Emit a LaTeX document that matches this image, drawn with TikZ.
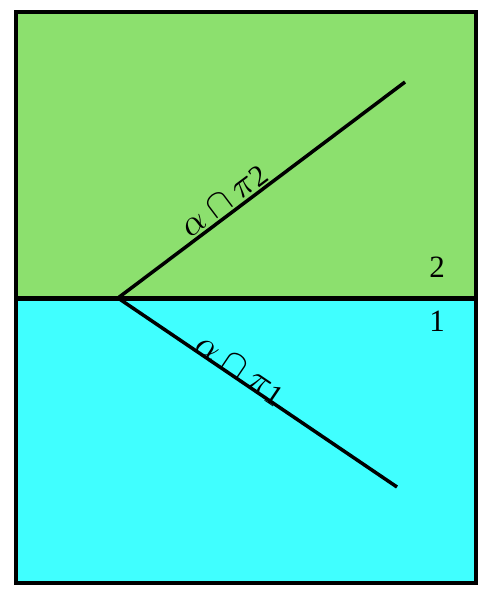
\documentclass[tikz,border=0pt]{standalone}
\usepackage{graphicx}
\usepackage{fontspec}
\setmainfont{Liberation Serif}
\definecolor{upgreen}{RGB}{140,224,110}
\definecolor{lowcyan}{RGB}{64,255,255}
\newcommand{\bigmath}[1]{\scalebox{3.6}{\fontsize{10}{12}\selectfont$#1$}}
\tikzset{
  frameline/.style={line width=3.5pt},
  rayline/.style={line width=3.5pt},
  lbl/.style={font=\fontsize{30}{34}\selectfont, inner sep=0pt},
  numlbl/.style={font=\fontsize{31}{35}\selectfont, inner sep=0pt},
}
\begin{document}
\begin{tikzpicture}[x=1pt,y=-1pt]
\useasboundingbox (0,0) rectangle (481,591);
\fill[upgreen] (16,12) rectangle (476,298);
\fill[lowcyan] (16,298) rectangle (476,583);
\draw[frameline] (16,12) rectangle (476,583);
\coordinate (L) at (16,298.5);
\coordinate (R) at (476,298.5);
\draw[line width=4.5pt] (L) -- (R);
\coordinate (V) at (118,298);
\coordinate (A) at (405,82);
\coordinate (B) at (397,487);
\draw[rayline] (V) -- (A) node[lbl, pos=0.40, sloped, anchor=base, yshift=4pt] (la) {\bigmath{\alpha\cap\pi}\raisebox{-1pt}{2}};
\draw[rayline] (V) -- (B) node[lbl, pos=0.42, sloped, anchor=base, yshift=0pt] (lb) {\bigmath{\alpha\cap\pi}\raisebox{-3pt}{1}};
\node[numlbl] (n2) at (437,267) {2};
\node[numlbl] (n1) at (437,321) {1};
\end{tikzpicture}
\end{document}
